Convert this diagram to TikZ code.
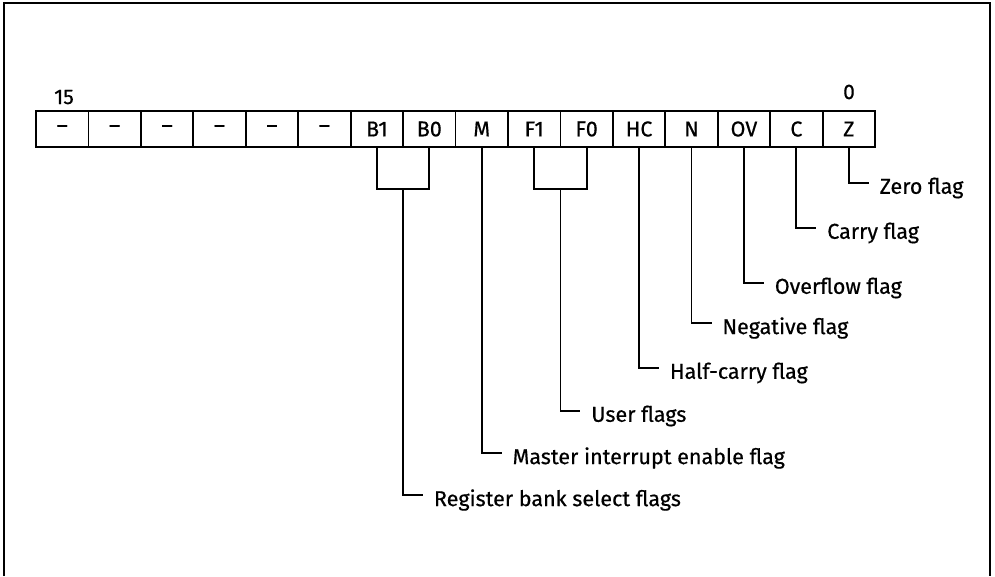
\documentclass[tikz,border=0pt]{standalone}
\usepackage{fontspec}
\setmainfont{Fira Sans}[FakeBold=0.5]
\usetikzlibrary{calc}

\begin{document}
\begin{tikzpicture}[x=1pt, y=-1pt, line width=1.8pt,
    bitbox/.style={draw, minimum width=52.44pt, minimum height=36pt, inner sep=0pt, font=\fontsize{21.5}{24}\selectfont},
    flaglabel/.style={anchor=west, inner sep=0pt, font=\fontsize{21.5}{24}\selectfont}]
  \useasboundingbox (0,0) rectangle (995,576);
  \draw[line width=1.5pt] (4,576) -- (4,3) -- (990,3) -- (990,576);
  % register bits 15 ... 0
  \foreach \t [count=\i from 0, evaluate=\i as \n using int(15-\i)] in {\textendash,\textendash,\textendash,\textendash,\textendash,\textendash,B1,B0,M,F1,F0,HC,N,OV,C,Z}
    \node[bitbox] (b\n) at ({36+52.44*(\i+0.5)},129) {\t};
  \node[anchor=base, font=\fontsize{21}{24}\selectfont] (msb) at (64,104) {15};
  \node[anchor=base, font=\fontsize{21}{24}\selectfont] (lsb) at (849,99) {0};
  % two-bit fields
  \foreach \a/\b/\c in {9/8/rb, 6/5/uf}{
    \draw (b\a.south) -- ++(0,41) -| (b\b.south);
    \coordinate (\c) at ($(b\a.south)!.5!(b\b.south)+(0,41)$);}
  \foreach \s/\y/\t in {b0/183/Zero flag, b1/228/Carry flag, b2/283/Overflow flag, b3/323/Negative flag, b4/368/Half-carry flag, uf/411/User flags, b7/453/Master interrupt enable flag, rb/495/Register bank select flags}{
    \node[flaglabel] (l\s) at ($(\s |- 0,\y)+(30,5)$) {\t};
    \draw (\s) |- ([xshift=-10pt,yshift=5pt]l\s.west);}
\end{tikzpicture}
\end{document}
